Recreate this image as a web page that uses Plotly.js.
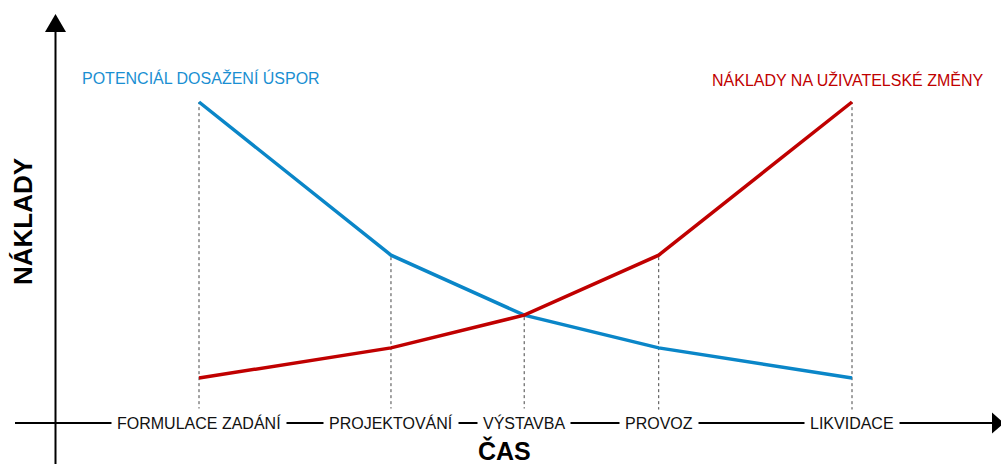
<!DOCTYPE html>
<html>
<head>
<meta charset="utf-8">
<script src="https://cdn.plot.ly/plotly-3.0.1.min.js"></script>
<style>html,body{margin:0;padding:0;background:#fff;}#chart{width:1001px;height:464px;}</style>
</head>
<body>
<div id="chart"></div>
<script>
// Data
var phases = ["FORMULACE ZADÁNÍ", "PROJEKTOVÁNÍ", "VÝSTAVBA", "PROVOZ", "LIKVIDACE"];
var phaseTime = [0, 2.94, 4.98, 7.04, 10];
var savingsPotential = [10, 5.23, 3.36, 2.34, 1.4];
var changeCosts = [1.4, 2.34, 3.36, 5.23, 10];
var seriesNames = ["POTENCIÁL DOSAŽENÍ ÚSPOR", "NÁKLADY NA UŽIVATELSKÉ ZMĚNY"];
var xTitle = "ČAS";
var yTitle = "NÁKLADY";

(function(){
var blue = "#0a86c8";
var red = "#c00000";
var fam = "Liberation Sans, Arial, sans-serif";

var W = 1001, H = 464;
function px(x){ return x / W; }
function py(y){ return 1 - y / H; }

var traces = [
  {x: phaseTime, y: savingsPotential, mode: "lines", name: seriesNames[0],
   line: {color: blue, width: 3.5}, hoverinfo: "skip"},
  {x: phaseTime, y: changeCosts, mode: "lines", name: seriesNames[1],
   line: {color: red, width: 3.5}, hoverinfo: "skip"}
];

var shapes = [];
for (var i = 0; i < phaseTime.length; i++) {
  var peak = Math.max(savingsPotential[i], changeCosts[i]);
  shapes.push({type: "line", xref: "x", yref: "y", x0: phaseTime[i], x1: phaseTime[i],
    y0: 0.4, y1: peak, line: {color: "#444", width: 1, dash: "dot"}, layer: "below"});
}
shapes.push({type: "line", xref: "paper", yref: "paper", x0: px(55.5), x1: px(55.5),
  y0: py(464), y1: py(30), line: {color: "#000", width: 2}});
shapes.push({type: "path", xref: "paper", yref: "paper",
  path: "M " + px(55.5) + " " + py(14) + " L " + px(45) + " " + py(32) + " L " + px(66) + " " + py(32) + " Z",
  fillcolor: "#000", line: {color: "#000", width: 0}});
shapes.push({type: "line", xref: "paper", yref: "y", x0: px(15), x1: px(993),
  y0: 0, y1: 0, line: {color: "#000", width: 2}});
shapes.push({type: "path", xref: "paper", yref: "paper",
  path: "M " + px(1004) + " " + py(423) + " L " + px(992) + " " + py(412.5) + " L " + px(992) + " " + py(433.5) + " Z",
  fillcolor: "#000", line: {color: "#000", width: 0}});

var annotations = [];
for (var j = 0; j < phases.length; j++) {
  annotations.push({x: phaseTime[j], y: 0, xref: "x", yref: "y", text: phases[j],
    showarrow: false, bgcolor: "#fff", borderpad: 5,
    font: {family: fam, size: 16, color: "#111"}});
}
annotations.push({x: px(80), y: py(78), xref: "paper", yref: "paper", xanchor: "left", yanchor: "middle",
  text: seriesNames[0], showarrow: false, font: {family: fam, size: 16, color: "#1a8fd2"}});
annotations.push({x: px(986), y: py(80), xref: "paper", yref: "paper", xanchor: "right", yanchor: "middle",
  text: seriesNames[1], showarrow: false, font: {family: fam, size: 16, color: red}});
annotations.push({x: px(504), y: py(450), xref: "paper", yref: "paper", xanchor: "center", yanchor: "middle",
  text: "<b>" + xTitle + "</b>", showarrow: false, font: {family: fam, size: 25, color: "#000"}});
annotations.push({x: px(23), y: py(222), xref: "paper", yref: "paper", xanchor: "center", yanchor: "middle",
  text: "<b>" + yTitle + "</b>", textangle: -90, showarrow: false, font: {family: fam, size: 26, color: "#000"}});

var layout = {
  width: W, height: H,
  margin: {l: 0, r: 0, t: 0, b: 0},
  paper_bgcolor: "#fff", plot_bgcolor: "#fff",
  showlegend: false,
  xaxis: {range: [(0 - 199) / 65.3, (W - 199) / 65.3], visible: false, fixedrange: true},
  yaxis: {range: [(423 - H) / 32.1, 423 / 32.1], visible: false, fixedrange: true},
  shapes: shapes,
  annotations: annotations
};

Plotly.newPlot("chart", traces, layout, {displayModeBar: false, staticPlot: true});
})();
</script>
</body>
</html>
